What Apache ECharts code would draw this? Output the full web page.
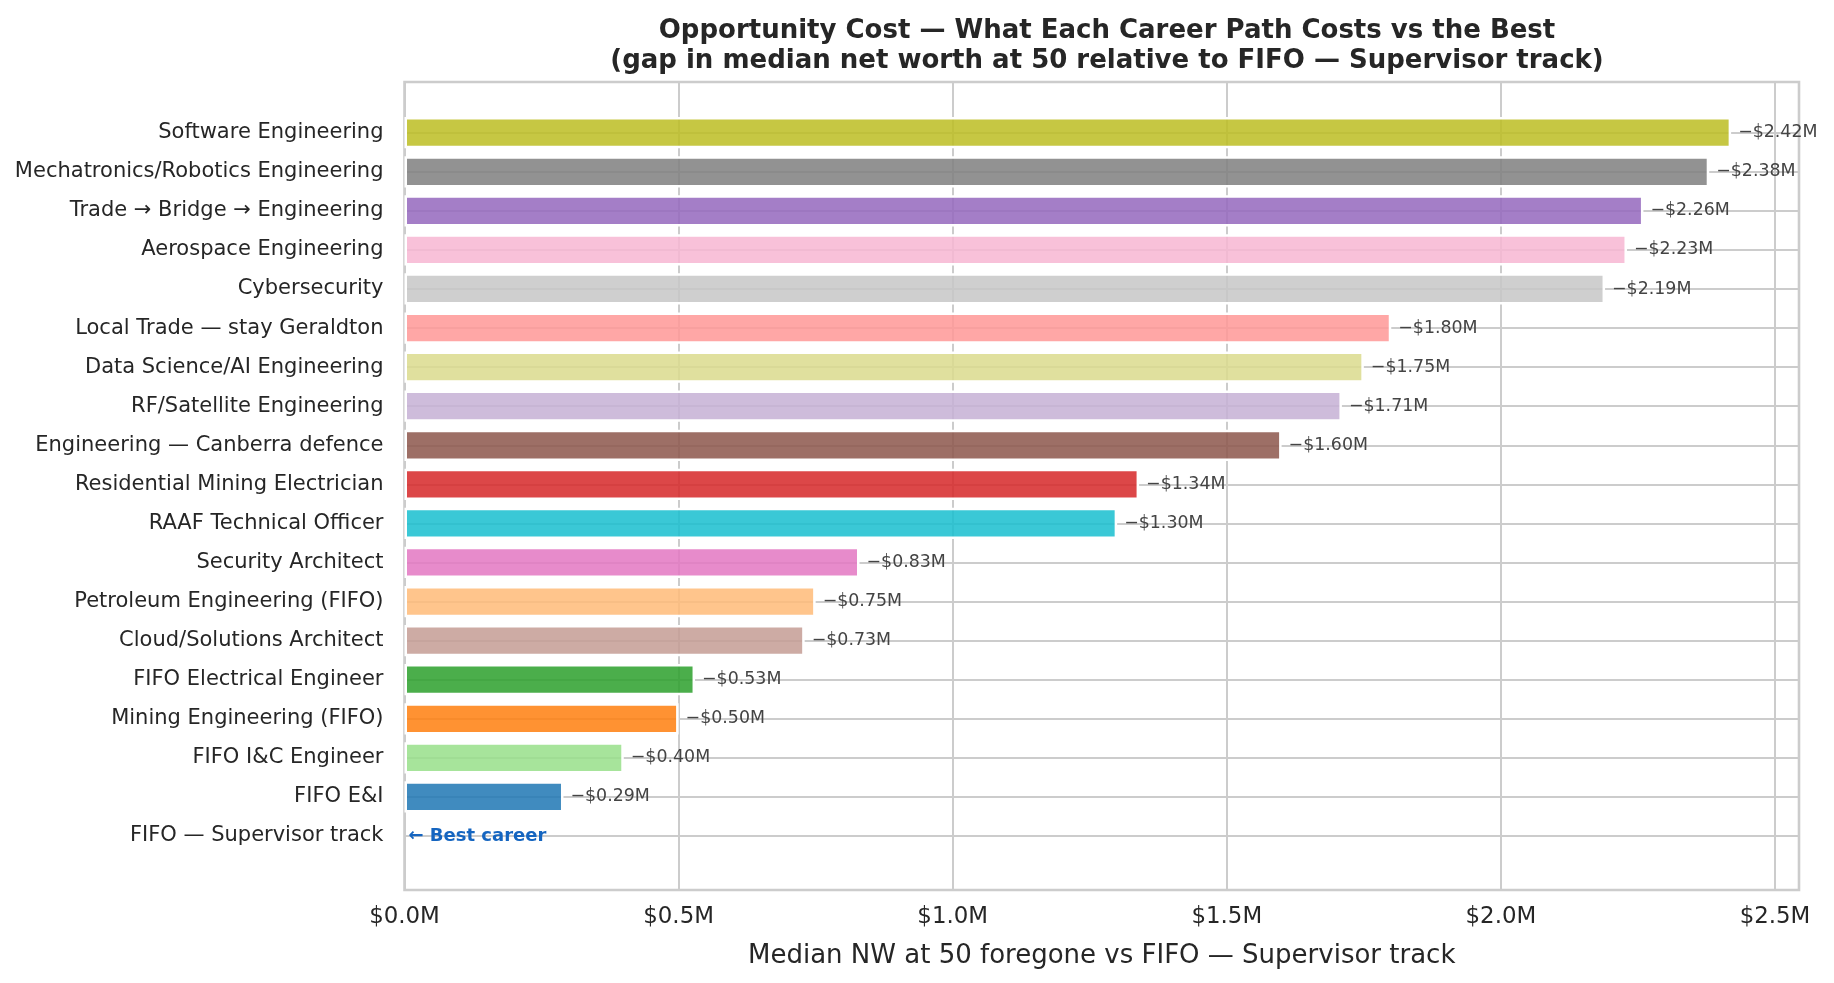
<!DOCTYPE html>
<html>
<head>
<meta charset="utf-8">
<script src="https://cdn.jsdelivr.net/npm/echarts@6/dist/echarts.min.js"></script>
<style>
  html, body { margin: 0; padding: 0; background: #fff; }
  #chart { width: 1834px; height: 983px; }
</style>
</head>
<body>
<div id="chart"></div>
<script>
// career paths, top to bottom
const careers = [
  'Software Engineering',
  'Mechatronics/Robotics Engineering',
  'Trade \u2192 Bridge \u2192 Engineering',
  'Aerospace Engineering',
  'Cybersecurity',
  'Local Trade \u2014 stay Geraldton',
  'Data Science/AI Engineering',
  'RF/Satellite Engineering',
  'Engineering \u2014 Canberra defence',
  'Residential Mining Electrician',
  'RAAF Technical Officer',
  'Security Architect',
  'Petroleum Engineering (FIFO)',
  'Cloud/Solutions Architect',
  'FIFO Electrical Engineer',
  'Mining Engineering (FIFO)',
  'FIFO I&C Engineer',
  'FIFO E&I',
  'FIFO \u2014 Supervisor track'
];
// gap vs best, $M
const gaps = [2.42, 2.38, 2.26, 2.23, 2.19, 1.80, 1.75, 1.71, 1.60, 1.34, 1.30, 0.83, 0.75, 0.73, 0.53, 0.50, 0.40, 0.29, 0];
const barColors = [
  '#bcbd22', '#7f7f7f', '#9467bd', '#f7b6d2', '#c7c7c7', '#ff9896', '#dbdb8d', '#c5b0d5', '#8c564b', '#d62728',
  '#17becf', '#e377c2', '#ffbb78', '#c49c94', '#2ca02c', '#ff7f0e', '#98df8a', '#1f77b4', '#aec7e8'
];
const xTicks = [0, 0.5, 1.0, 1.5, 2.0, 2.5];
const bestName = 'FIFO \u2014 Supervisor track';

const FONT = 'DejaVu Sans';
const xMax = 2.5438;

// hex -> rgba with alpha (keeps the labels fully opaque)
function withAlpha(hex, a) {
  const n = parseInt(hex.slice(1), 16);
  return 'rgba(' + (n >> 16) + ',' + ((n >> 8) & 255) + ',' + (n & 255) + ',' + a + ')';
}

const chart = echarts.init(document.getElementById('chart'));

// bar data, best career gets the note instead of a value
const barData = gaps.map(function (v, i) {
  const item = { value: v, itemStyle: { color: withAlpha(barColors[i], 0.85) } };
  if (careers[i] === bestName) {
    item.itemStyle.borderWidth = 0;
    item.label = {
      formatter: '\u2190 Best career',
      color: '#1565c0',
      fontWeight: 'bold',
      fontSize: 18,
      distance: 4
    };
  }
  return item;
});

const option = {
  animation: false,
  backgroundColor: '#ffffff',
  title: {
    text: 'Opportunity Cost \u2014 What Each Career Path Costs vs the Best\n(gap in median net worth at 50 relative to FIFO \u2014 Supervisor track)',
    left: 1102,
    top: 11,
    textAlign: 'center',
    textStyle: {
      fontFamily: FONT,
      fontSize: 26,
      fontWeight: 'bold',
      color: '#262626',
      lineHeight: 30
    }
  },
  grid: [
    // frame + vertical grid
    { left: 404.5, right: 35, top: 82, bottom: 93, show: true, borderColor: '#cccccc', borderWidth: 2.6, backgroundColor: 'transparent' },
    // bars, rows centred on tick positions
    { left: 404.5, right: 35, top: 132.7, bottom: 147 }
  ],
  xAxis: [
    {
      gridIndex: 0,
      type: 'value',
      min: 0,
      max: xMax,
      interval: 0.5,
      axisLine: { show: false },
      axisTick: { show: false },
      splitLine: { show: true, lineStyle: { color: '#cccccc', width: 2 } },
      axisLabel: {
        margin: 16,
        fontFamily: FONT,
        fontSize: 22.9,
        color: '#262626',
        formatter: function (v) {
          const t = xTicks.find(function (k) { return Math.abs(k - v) < 1e-6; });
          return t === undefined ? '' : '$' + t.toFixed(1) + 'M';
        }
      },
      name: 'Median NW at 50 foregone vs FIFO \u2014 Supervisor track',
      nameLocation: 'middle',
      nameGap: 53,
      nameTextStyle: { fontFamily: FONT, fontSize: 26, color: '#262626' }
    },
    {
      gridIndex: 1,
      type: 'value',
      min: 0,
      max: xMax,
      show: false,
      splitLine: { show: false }
    }
  ],
  yAxis: [
    { gridIndex: 0, type: 'value', show: false, splitLine: { show: false } },
    {
      gridIndex: 1,
      type: 'category',
      data: careers,
      inverse: true,
      boundaryGap: false,
      axisLine: { show: false },
      axisTick: { show: false },
      splitLine: { show: true, lineStyle: { color: '#cccccc', width: 2 } },
      axisLabel: {
        margin: 21,
        padding: [4, 0, 0, 0],
        fontFamily: FONT,
        fontSize: 21,
        color: '#262626'
      }
    }
  ],
  series: [
    {
      type: 'bar',
      xAxisIndex: 1,
      yAxisIndex: 1,
      data: barData,
      barWidth: '80%',
      clip: false,
      itemStyle: { borderColor: '#ffffff', borderWidth: 2.5 },
      label: {
        show: true,
        position: 'right',
        distance: 7,
        fontFamily: FONT,
        fontSize: 17.4,
        color: '#444444',
        formatter: function (p) {
          return '\u2212$' + p.value.toFixed(2) + 'M';
        }
      }
    }
  ]
};

chart.setOption(option);
</script>
</body>
</html>
